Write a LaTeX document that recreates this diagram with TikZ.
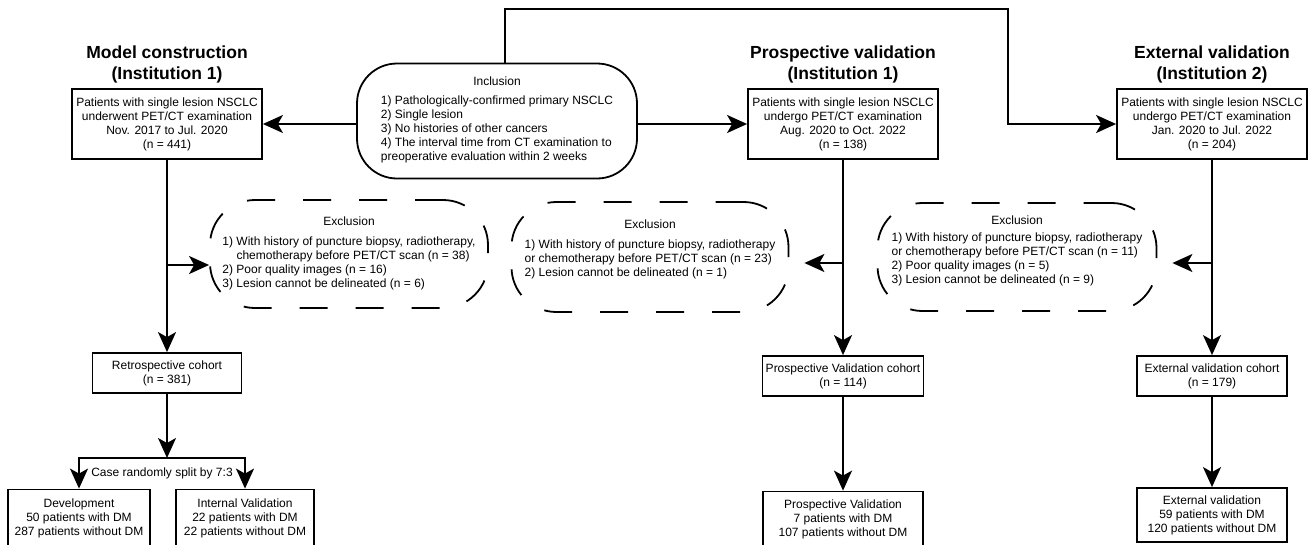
\documentclass[tikz,border=0pt]{standalone}
\usepackage{fontspec}
\setmainfont{Liberation Sans}
\usetikzlibrary{arrows.meta, positioning, calc}
\tikzset{
  flowbox/.style={rectangle, draw, line width=1.8pt, minimum width=#1, minimum height=40pt,
                  inner xsep=2pt, align=center, font=\fontsize{12}{14}\selectfont},
  flowbox/.default=150pt,
  inclbox/.style={rectangle, rounded corners=40pt, draw, line width=1.8pt, minimum width=280pt,
                  minimum height=115pt, align=center, font=\fontsize{12}{14}\selectfont},
  exclbox/.style={rectangle, rounded corners=45pt, draw, line width=1.8pt, dash pattern=on 28pt off 28pt,
                  minimum width=#1, minimum height=108pt, align=center, font=\fontsize{12}{14}\selectfont},
  exclbox/.default=278pt,
  hdr/.style={align=center, font=\fontsize{17.5}{21}\selectfont\bfseries},
  lbl/.style={font=\fontsize{12}{14}\selectfont},
  arrow/.style={-{Stealth[length=20pt, width=18pt, inset=5pt]}, line width=1.8pt},
}
\begin{document}
\begin{tikzpicture}[x=1pt, y=-1pt]
  \useasboundingbox (0,0) rectangle (1311,544);

  % Headers
  \node[hdr] (modelhdr) at (167,64) {Model construction\\(Institution 1)};
  \node[hdr] (prosphdr) at (843,64) {Prospective validation\\(Institution 1)};
  \node[hdr] (exthdr) at (1212,64) {External validation\\(Institution 2)};

  % Source populations
  \node[flowbox=190pt, minimum height=70pt] (modelsrc) at (167,124)
    {Patients with single lesion NSCLC\\underwent PET/CT examination\\Nov. 2017 to Jul. 2020\\(n = 441)};
  \node[flowbox=190pt, minimum height=70pt] (prospsrc) at (843,124)
    {Patients with single lesion NSCLC\\undergo PET/CT examination\\Aug. 2020 to Oct. 2022\\(n = 138)};
  \node[flowbox=190pt, minimum height=70pt] (extsrc) at (1212,124)
    {Patients with single lesion NSCLC\\undergo PET/CT examination\\Jan. 2020 to Jul. 2022\\(n = 204)};

  % Inclusion
  \node[inclbox] (incl) at (497,121) {Inclusion\\[8pt]
    \begin{tabular}{@{}l@{}}
      1) Pathologically-confirmed primary NSCLC\\
      2) Single lesion\\
      3) No histories of other cancers\\
      4) The interval time from CT examination to\\
      preoperative evaluation within 2 weeks
    \end{tabular}};
  \coordinate (bend) at (1008,9);

  % Exclusion
  \node[exclbox] (excla) at (349,254) {Exclusion\\[9pt]
    \begin{tabular}{@{}l@{}}
      1) With history of puncture biopsy, radiotherapy,\\
      \phantom{1) }chemotherapy before PET/CT scan (n = 38)\\
      2) Poor quality images (n = 16)\\
      3) Lesion cannot be delineated (n = 6)
    \end{tabular}};
  \node[exclbox=277pt, minimum height=110pt] (exclb) at (650,257) {Exclusion\\[9pt]
    \begin{tabular}{@{}l@{}}
      1) With history of puncture biopsy, radiotherapy\\
      or chemotherapy before PET/CT scan (n = 23)\\
      2) Lesion cannot be delineated (n = 1)\\[14pt]
    \end{tabular}};
  \node[exclbox=279pt] (exclc) at (1017,257) {Exclusion\\[6pt]
    \begin{tabular}{@{}l@{}}
      1) With history of puncture biopsy, radiotherapy\\
      or chemotherapy before PET/CT scan (n = 11)\\
      2) Poor quality images (n = 5)\\
      3) Lesion cannot be delineated (n = 9)\\[10pt]
    \end{tabular}};

  % Cohorts
  \node[flowbox=149pt] (retro) at (167,373) {Retrospective cohort\\(n = 381)};
  \node[flowbox=161pt] (prospcoh) at (843,376) {Prospective Validation cohort\\(n = 114)};
  \node[flowbox=150pt] (extcoh) at (1212,376) {External validation cohort\\(n = 179)};
  \coordinate (split) at (167,458);
  \node[lbl] (splitlbl) at (162,473) {Case randomly split by 7:3};

  % Final sets
  \node[flowbox=142pt, minimum height=57pt] (dev) at (79,518) {Development\\50 patients with DM\\287 patients without DM};
  \node[flowbox=138pt, minimum height=57pt] (intval) at (245,518) {Internal Validation\\22 patients with DM\\22 patients without DM};
  \node[flowbox=160pt, minimum height=55pt] (prospval) at (843,519) {Prospective Validation\\7 patients with DM\\107 patients without DM};
  \node[flowbox=150pt, minimum height=54pt] (extval) at (1212,515) {External validation\\59 patients with DM\\120 patients without DM};

  % Connectors
  \draw[arrow] (incl.west |- modelsrc) -- (modelsrc.east);
  \draw[arrow] (incl.east |- prospsrc) -- (prospsrc.west);
  \draw[arrow] ([xshift=8pt]incl.north) |- (bend) |- (extsrc.west);

  \coordinate (ja) at (167,265);
  \coordinate (jp) at (843,263);
  \coordinate (je) at (1212,263);
  \draw[arrow] (modelsrc) -- (retro);
  \draw[arrow] (ja) -- (ja -| excla.west);
  \draw[arrow] (prospsrc) -- (prospcoh);
  \draw[arrow, shorten >=15pt] (jp) -- (jp -| exclb.east);
  \draw[arrow] (extsrc) -- (extcoh);
  \draw[arrow, shorten >=15pt] (je) -- (je -| exclc.east);

  \draw[arrow] (retro) -- (split);
  \draw[arrow] (split) -| (dev.north);
  \draw[arrow] (split) -| (intval.north);
  \draw[arrow] (prospcoh) -- (prospval);
  \draw[arrow] (extcoh) -- (extval);
\end{tikzpicture}
\end{document}
